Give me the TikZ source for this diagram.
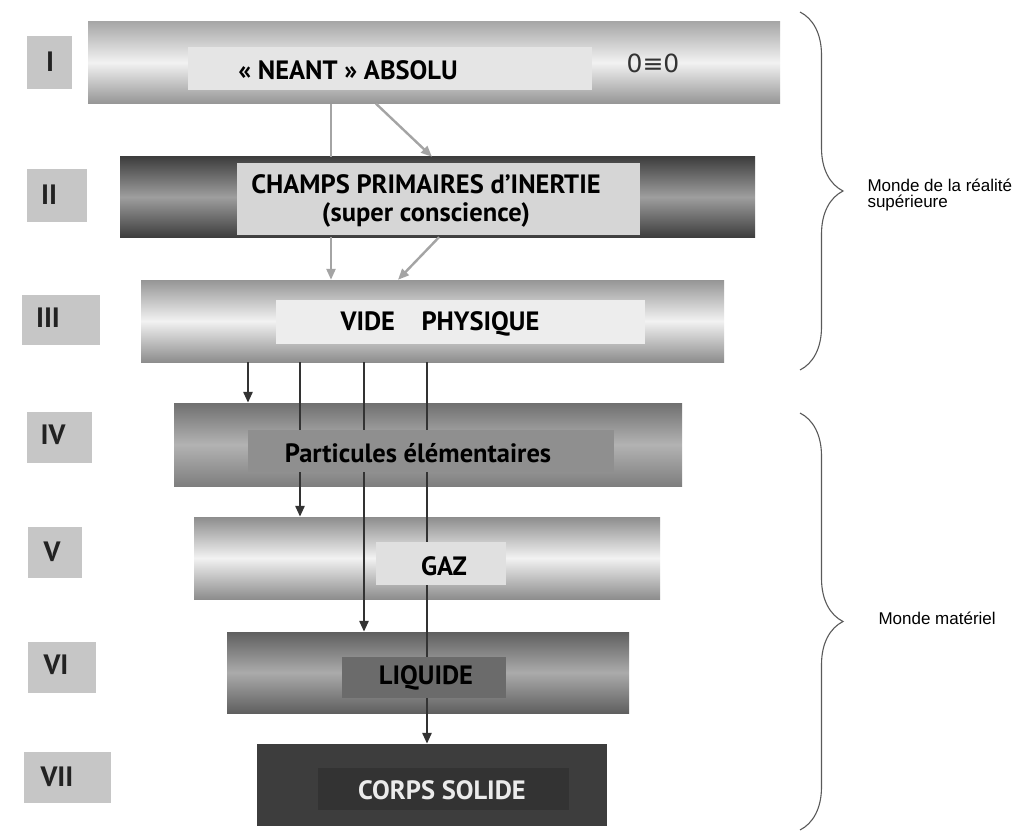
\documentclass[tikz,border=0pt]{standalone}
\usepackage{fontspec}
\setmainfont{PT Sans}
\newfontfamily\sidefont{Liberation Sans}
\newfontfamily\eqfont{DejaVu Sans}
\usetikzlibrary{positioning,arrows.meta,decorations.pathreplacing}
\definecolor{cNum}  {HTML}{C6C6C6}
\definecolor{cTxt}  {HTML}{222222}
\definecolor{cArrow}{HTML}{A4A4A4}
\definecolor{cBrace}{HTML}{5A5A5A}
\definecolor{cLtTop}{HTML}{A6A6A6}
\definecolor{cLtMid}{HTML}{F2F2F2}
\definecolor{cDkTop}{HTML}{3E3E3E}
\definecolor{cMdTop}{HTML}{707070}
\definecolor{cSolid}{HTML}{3D3D3D}

\begin{document}
\begin{tikzpicture}[
    x=1pt,y=-1pt,
    >={Triangle[length=11pt,width=9pt]},
    bar/.style={inner sep=0pt,minimum height=82pt},
    inbox/.style={inner sep=0pt,minimum height=43pt},
    numbox/.style={fill=cNum,inner sep=0pt,minimum height=51pt},
    numtxt/.style={font=\bfseries\fontsize{28}{30}\selectfont,text=cTxt},
    lbl/.style={font=\bfseries\fontsize{26.5}{28}\selectfont,align=center,text=black},
    ga/.style={draw=cArrow,line width=2.4pt},
    gar/.style={ga,->},
    dn/.style={draw=black!80,line width=2.6pt,->},
    brc/.style={draw=cBrace,line width=1.1pt,decorate,decoration={brace,amplitude=43pt}},
    side/.style={font=\sidefont\fontsize{17}{16}\selectfont,anchor=west,align=left},
  ]
  \useasboundingbox[fill=white] (0,0) rectangle (1021,832);

  % ---------- BARS ----------
  \node[bar,minimum width=692pt,top color=cLtTop,bottom color=cLtTop!90!black,middle color=cLtMid] (b1) at (434,62.5) {};
  \node[bar,minimum width=635pt,minimum height=80pt,top color=cDkTop,bottom color=cDkTop,middle color=black!38] (b2) at (437.5,197) {};
  \node[bar,minimum width=583pt,top color=cLtTop!90!black,bottom color=cLtTop!85!black,middle color=cLtMid] (b3) at (432.5,321) {};
  \node[bar,minimum width=508pt,minimum height=83pt,top color=cMdTop,bottom color=cMdTop!90!white,middle color=black!30] (b4) at (428,444.5) {};
  \node[bar,minimum width=466pt,top color=cLtTop!85!black,bottom color=cLtTop!85!black,middle color=cLtMid] (b5) at (427,558) {};
  \node[bar,minimum width=402pt,minimum height=81pt,top color=cMdTop!85!black,bottom color=cMdTop!85!black,middle color=black!33] (b6) at (428,672.5) {};
  \node[bar,minimum width=350pt,fill=cSolid] (b7) at (432,785) {};

  % ---------- CONNECTORS ----------
  \coordinate (xa) at (331,0);
  \coordinate (xb) at (376,0);
  \coordinate (xc) at (432,0);
  \coordinate (xd) at (439,0);
  \coordinate (xe) at (398,0);
  \draw[ga]  (b1.south -| xa) -- (b2.north -| xa);
  \draw[gar] (b1.south -| xb) -- (b2.north -| xc);
  \draw[gar] (b2.south -| xa) -- (b3.north -| xa);
  \draw[gar] (b2.south -| xd) -- (b3.north -| xe);

  \coordinate (c1) at (248,0);
  \coordinate (c2) at (300,0);
  \coordinate (c3) at (364,0);
  \coordinate (c4) at (427,0);
  \draw[dn] (b3.south -| c1) -- (b4.north -| c1);
  \draw[dn] (b3.south -| c2) -- (b5.north -| c2);
  \draw[dn] (b3.south -| c3) -- (b6.north -| c3);
  \draw[dn] (b3.south -| c4) -- (b7.north -| c4);

  % ---------- INNER BOXES ----------
  \node[inbox,minimum width=404pt,fill=black!10] (i1) at (390,68.5) {};
  \node[inbox,minimum width=403pt,minimum height=72pt,fill=black!16] (i2) at (438.5,199) {};
  \node[inbox,minimum width=369pt,minimum height=44pt,fill=black!7] (i3) at (460.5,322) {};
  \node[inbox,minimum width=366pt,minimum height=42pt,fill=black!44] (i4) at (431,451) {};
  \node[inbox,minimum width=130pt,fill=black!12] (i5) at (441,563.5) {};
  \node[inbox,minimum width=164pt,minimum height=41pt,fill=black!58] (i6) at (424,677.5) {};
  \node[inbox,minimum width=251pt,minimum height=42pt,fill=black!80] (i7) at (443.5,789) {};

  \node[lbl] (t1) at (348,70) {« NEANT » ABSOLU};
  \node[font=\eqfont\fontsize{25}{28}\selectfont,text=black!80] (eq) at (653,63) {0≡0};
  \node[lbl] (t2) at (426,201) {CHAMPS PRIMAIRES d’INERTIE\\(super conscience)};
  \node[lbl] (t3) at (440,324) {VIDE\quad PHYSIQUE};
  \node[lbl] (t4) at (418,453) {Particules élémentaires};
  \node[lbl] (t5) at (444,566) {GAZ};
  \node[lbl] (t6) at (426,678) {LIQUIDE};
  \node[lbl,text=black!8] (t7) at (442,790) {CORPS SOLIDE};

  % ---------- LEVEL NUMBERS ----------
  \node[numbox,minimum width=45pt,minimum height=53pt] (n1) at (49.5,62.5) {};
  \node[numtxt] (r1) at (50,62) {I};
  \node[numbox,minimum width=60pt,minimum height=53pt] (n2) at (57,195.5) {};
  \node[numtxt] (r2) at (49,195) {II};
  \node[numbox,minimum width=78pt,minimum height=50pt] (n3) at (61,320) {};
  \node[numtxt] (r3) at (48,318) {III};
  \node[numbox,minimum width=65pt] (n4) at (59.5,437.5) {};
  \node[numtxt] (r4) at (53,435) {IV};
  \node[numbox,minimum width=54pt] (n5) at (55,552.5) {};
  \node[numtxt] (r5) at (52,552) {V};
  \node[numbox,minimum width=68pt] (n6) at (62,667.5) {};
  \node[numtxt] (r6) at (56,665) {VI};
  \node[numbox,minimum width=87pt] (n7) at (67.5,777.5) {};
  \node[numtxt] (r7) at (57,777) {VII};

  % ---------- BRACES ----------
  \coordinate (up1) at (800,12);
  \coordinate (up2) at (800,370);
  \coordinate (lo1) at (800,413);
  \coordinate (lo2) at (800,830);
  \draw[brc] (up1) -- (up2);
  \draw[brc] (lo1) -- (lo2);
  \node[side] (w1) at (864,195) {Monde de la réalité\\supérieure};
  \node[side] (w2) at (875,618) {Monde matériel};

\end{tikzpicture}
\end{document}
